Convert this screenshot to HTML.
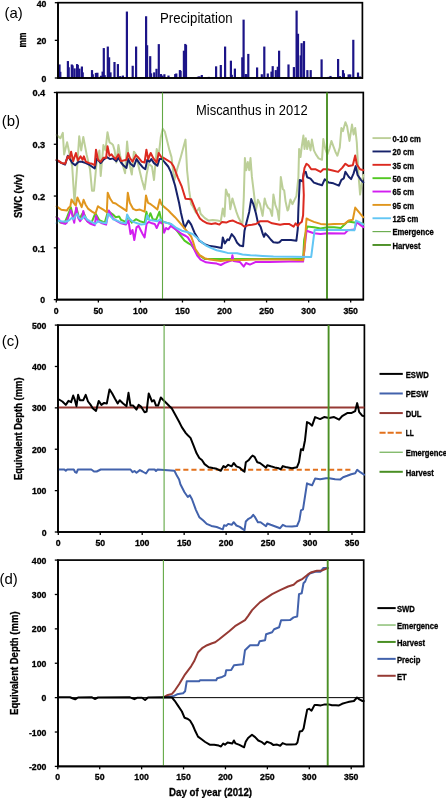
<!DOCTYPE html>
<html><head><meta charset="utf-8"><title>Miscanthus 2012</title>
<style>
html,body{margin:0;padding:0;background:#fff;width:446px;height:798px;overflow:hidden}
svg{display:block;font-family:"Liberation Sans",sans-serif;filter:blur(0.25px)}
</style></head><body>
<svg width="446" height="798" viewBox="0 0 446 798">
<rect width="446" height="798" fill="#fff"/>
<rect x="58.40" y="64.45" width="2.2" height="13.55" fill="#1c1488"/>
<rect x="59.20" y="71.79" width="2.2" height="6.21" fill="#1c1488"/>
<rect x="66.80" y="61.06" width="2.2" height="16.94" fill="#1c1488"/>
<rect x="67.60" y="67.27" width="2.2" height="10.73" fill="#1c1488"/>
<rect x="70.70" y="64.45" width="2.2" height="13.55" fill="#1c1488"/>
<rect x="71.50" y="65.39" width="2.2" height="12.61" fill="#1c1488"/>
<rect x="73.50" y="68.40" width="2.2" height="9.60" fill="#1c1488"/>
<rect x="76.00" y="64.07" width="2.2" height="13.93" fill="#1c1488"/>
<rect x="76.70" y="65.01" width="2.2" height="12.99" fill="#1c1488"/>
<rect x="78.30" y="68.59" width="2.2" height="9.41" fill="#1c1488"/>
<rect x="80.80" y="66.52" width="2.2" height="11.48" fill="#1c1488"/>
<rect x="81.60" y="72.35" width="2.2" height="5.65" fill="#1c1488"/>
<rect x="90.90" y="70.09" width="2.2" height="7.91" fill="#1c1488"/>
<rect x="91.70" y="74.23" width="2.2" height="3.76" fill="#1c1488"/>
<rect x="94.80" y="72.92" width="2.2" height="5.08" fill="#1c1488"/>
<rect x="96.30" y="72.73" width="2.2" height="5.27" fill="#1c1488"/>
<rect x="99.90" y="75.74" width="2.2" height="2.26" fill="#1c1488"/>
<rect x="101.50" y="71.60" width="2.2" height="6.40" fill="#1c1488"/>
<rect x="102.70" y="48.07" width="2.2" height="29.93" fill="#1c1488"/>
<rect x="103.60" y="75.18" width="2.2" height="2.82" fill="#1c1488"/>
<rect x="106.70" y="46.56" width="2.2" height="31.44" fill="#1c1488"/>
<rect x="108.00" y="57.29" width="2.2" height="20.71" fill="#1c1488"/>
<rect x="109.40" y="72.35" width="2.2" height="5.65" fill="#1c1488"/>
<rect x="113.40" y="62.00" width="2.2" height="16.00" fill="#1c1488"/>
<rect x="116.80" y="64.07" width="2.2" height="13.93" fill="#1c1488"/>
<rect x="119.10" y="76.12" width="2.2" height="1.88" fill="#1c1488"/>
<rect x="121.80" y="75.55" width="2.2" height="2.45" fill="#1c1488"/>
<rect x="125.80" y="11.55" width="2.2" height="66.45" fill="#1c1488"/>
<rect x="131.60" y="65.76" width="2.2" height="12.24" fill="#1c1488"/>
<rect x="135.00" y="46.56" width="2.2" height="31.44" fill="#1c1488"/>
<rect x="139.30" y="77.25" width="2.2" height="0.75" fill="#1c1488"/>
<rect x="141.90" y="77.25" width="2.2" height="0.75" fill="#1c1488"/>
<rect x="145.00" y="16.25" width="2.2" height="61.75" fill="#1c1488"/>
<rect x="146.00" y="45.24" width="2.2" height="32.76" fill="#1c1488"/>
<rect x="149.10" y="56.16" width="2.2" height="21.84" fill="#1c1488"/>
<rect x="150.00" y="73.29" width="2.2" height="4.71" fill="#1c1488"/>
<rect x="153.10" y="72.35" width="2.2" height="5.65" fill="#1c1488"/>
<rect x="155.40" y="68.78" width="2.2" height="9.22" fill="#1c1488"/>
<rect x="157.70" y="44.12" width="2.2" height="33.88" fill="#1c1488"/>
<rect x="159.90" y="74.05" width="2.2" height="3.95" fill="#1c1488"/>
<rect x="161.30" y="75.55" width="2.2" height="2.45" fill="#1c1488"/>
<rect x="163.30" y="74.23" width="2.2" height="3.76" fill="#1c1488"/>
<rect x="167.40" y="75.55" width="2.2" height="2.45" fill="#1c1488"/>
<rect x="174.10" y="74.05" width="2.2" height="3.95" fill="#1c1488"/>
<rect x="175.20" y="73.48" width="2.2" height="4.52" fill="#1c1488"/>
<rect x="178.80" y="70.09" width="2.2" height="7.91" fill="#1c1488"/>
<rect x="179.50" y="70.85" width="2.2" height="7.15" fill="#1c1488"/>
<rect x="182.80" y="50.70" width="2.2" height="27.30" fill="#1c1488"/>
<rect x="184.20" y="43.93" width="2.2" height="34.07" fill="#1c1488"/>
<rect x="184.90" y="45.06" width="2.2" height="32.94" fill="#1c1488"/>
<rect x="196.90" y="76.68" width="2.2" height="1.32" fill="#1c1488"/>
<rect x="198.30" y="76.31" width="2.2" height="1.69" fill="#1c1488"/>
<rect x="200.70" y="74.99" width="2.2" height="3.01" fill="#1c1488"/>
<rect x="207.70" y="76.87" width="2.2" height="1.13" fill="#1c1488"/>
<rect x="215.00" y="66.33" width="2.2" height="11.67" fill="#1c1488"/>
<rect x="219.70" y="65.01" width="2.2" height="12.99" fill="#1c1488"/>
<rect x="224.00" y="46.56" width="2.2" height="31.44" fill="#1c1488"/>
<rect x="227.50" y="77.06" width="2.2" height="0.94" fill="#1c1488"/>
<rect x="229.80" y="60.68" width="2.2" height="17.32" fill="#1c1488"/>
<rect x="230.70" y="74.80" width="2.2" height="3.20" fill="#1c1488"/>
<rect x="233.80" y="68.59" width="2.2" height="9.41" fill="#1c1488"/>
<rect x="237.20" y="77.25" width="2.2" height="0.75" fill="#1c1488"/>
<rect x="241.20" y="57.29" width="2.2" height="20.71" fill="#1c1488"/>
<rect x="242.50" y="19.64" width="2.2" height="58.36" fill="#1c1488"/>
<rect x="244.60" y="74.05" width="2.2" height="3.95" fill="#1c1488"/>
<rect x="245.50" y="74.23" width="2.2" height="3.76" fill="#1c1488"/>
<rect x="247.20" y="53.90" width="2.2" height="24.10" fill="#1c1488"/>
<rect x="256.00" y="67.46" width="2.2" height="10.54" fill="#1c1488"/>
<rect x="260.70" y="74.23" width="2.2" height="3.76" fill="#1c1488"/>
<rect x="263.20" y="46.56" width="2.2" height="31.44" fill="#1c1488"/>
<rect x="266.70" y="73.48" width="2.2" height="4.52" fill="#1c1488"/>
<rect x="270.40" y="71.60" width="2.2" height="6.40" fill="#1c1488"/>
<rect x="271.60" y="66.14" width="2.2" height="11.86" fill="#1c1488"/>
<rect x="274.70" y="70.09" width="2.2" height="7.91" fill="#1c1488"/>
<rect x="276.70" y="66.70" width="2.2" height="11.29" fill="#1c1488"/>
<rect x="278.00" y="50.70" width="2.2" height="27.30" fill="#1c1488"/>
<rect x="287.40" y="64.45" width="2.2" height="13.55" fill="#1c1488"/>
<rect x="292.80" y="67.08" width="2.2" height="10.92" fill="#1c1488"/>
<rect x="295.50" y="10.61" width="2.2" height="67.39" fill="#1c1488"/>
<rect x="296.90" y="33.76" width="2.2" height="44.24" fill="#1c1488"/>
<rect x="299.60" y="55.41" width="2.2" height="22.59" fill="#1c1488"/>
<rect x="300.50" y="43.17" width="2.2" height="34.83" fill="#1c1488"/>
<rect x="302.90" y="41.10" width="2.2" height="36.90" fill="#1c1488"/>
<rect x="306.30" y="70.09" width="2.2" height="7.91" fill="#1c1488"/>
<rect x="309.60" y="70.09" width="2.2" height="7.91" fill="#1c1488"/>
<rect x="320.50" y="59.36" width="2.2" height="18.64" fill="#1c1488"/>
<rect x="327.40" y="76.87" width="2.2" height="1.13" fill="#1c1488"/>
<rect x="329.40" y="75.93" width="2.2" height="2.07" fill="#1c1488"/>
<rect x="337.00" y="58.99" width="2.2" height="19.01" fill="#1c1488"/>
<rect x="338.80" y="76.12" width="2.2" height="1.88" fill="#1c1488"/>
<rect x="341.90" y="70.09" width="2.2" height="7.91" fill="#1c1488"/>
<rect x="342.80" y="73.29" width="2.2" height="4.71" fill="#1c1488"/>
<rect x="347.50" y="74.42" width="2.2" height="3.58" fill="#1c1488"/>
<rect x="349.10" y="74.42" width="2.2" height="3.58" fill="#1c1488"/>
<rect x="352.20" y="39.79" width="2.2" height="38.21" fill="#1c1488"/>
<rect x="356.90" y="72.54" width="2.2" height="5.46" fill="#1c1488"/>
<rect x="358.90" y="76.49" width="2.2" height="1.51" fill="#1c1488"/>
<rect x="58.0" y="2.7" width="304.4" height="75.3" fill="none" stroke="#000" stroke-width="1.7"/>
<line x1="58.0" y1="2.1" x2="58.0" y2="78.6" stroke="#000" stroke-width="1.6" />
<line x1="57.4" y1="78.0" x2="363.0" y2="78.0" stroke="#000" stroke-width="1.6" />
<line x1="54.8" y1="78.0" x2="58.0" y2="78.0" stroke="#000" stroke-width="1.3" />
<text x="46.4" y="81.5" font-size="9.2" font-weight="bold" text-anchor="end" fill="#000" stroke="#000" stroke-width="0.3" textLength="4.86" lengthAdjust="spacingAndGlyphs" >0</text>
<line x1="54.8" y1="40.35" x2="58.0" y2="40.35" stroke="#000" stroke-width="1.3" />
<text x="46.4" y="43.85" font-size="9.2" font-weight="bold" text-anchor="end" fill="#000" stroke="#000" stroke-width="0.3" textLength="9.72" lengthAdjust="spacingAndGlyphs" >20</text>
<line x1="54.8" y1="2.7" x2="58.0" y2="2.7" stroke="#000" stroke-width="1.3" />
<text x="46.4" y="6.6" font-size="9.2" font-weight="bold" text-anchor="end" fill="#000" stroke="#000" stroke-width="0.3" textLength="9.72" lengthAdjust="spacingAndGlyphs" >40</text>
<text x="25.6" y="40" font-size="10" font-weight="bold" text-anchor="middle" fill="#000" stroke="#000" stroke-width="0.3" textLength="15.00" lengthAdjust="spacingAndGlyphs" transform="rotate(-90 25.6 40)">mm</text>
<text x="4.6" y="18.4" font-size="14.5" font-weight="normal" text-anchor="start" fill="#000" textLength="18.25" lengthAdjust="spacingAndGlyphs" >(a)</text>
<text x="160" y="23.3" font-size="13.8" font-weight="normal" text-anchor="start" fill="#000" textLength="72.60" lengthAdjust="spacingAndGlyphs" >Precipitation</text>
<rect x="57.0" y="92.5" width="306.3" height="207.10000000000002" fill="none" stroke="#000" stroke-width="1.7"/>
<text x="196" y="115.3" font-size="14.0" font-weight="normal" text-anchor="start" fill="#000" textLength="111.60" lengthAdjust="spacingAndGlyphs" >Miscanthus in 2012</text>
<polyline points="56.6,134.9 60.4,138.3 62.8,132.9 64.1,154.4 67.1,142.3 69.1,151.7 72.2,166.5 74.5,202.8 77.2,166.5 79.2,136.2 81.2,150.4 83.3,136.9 86.6,154.4 90.0,169.2 92.0,190.7 94.0,190.7 96.7,161.1 99.4,150.4 100.7,175.9 103.4,145.0 105.5,150.4 107.5,132.2 109.5,142.3 111.5,143.6 113.0,145.0 114.6,150.4 116.4,162.5 118.4,145.0 120.4,157.1 122.4,163.8 125.1,173.2 127.1,141.6 129.1,162.5 131.8,174.6 133.9,151.7 135.9,154.4 138.6,166.5 141.9,180.0 144.6,189.4 146.6,174.6 148.7,163.8 152.0,166.5 154.0,180.0 156.7,149.0 158.7,155.7 160.8,136.9 162.8,128.8 164.8,131.5 166.8,139.6 169.5,150.4 171.5,157.1 172.3,163.8 174.4,180.0 177.1,169.2 180.4,158.4 185.5,139.6 187.1,170.5 189.2,190.7 191.2,204.2 192.5,205.8 195.9,212.5 199.3,207.8 200.6,213.8 204.6,217.9 208.7,220.6 212.7,219.9 217.4,220.6 220.8,221.2 222.8,208.5 224.5,216.5 225.9,189.4 228.2,196.1 229.0,194.4 230.3,209.2 232.4,198.4 234.4,205.2 236.4,211.9 238.4,217.3 240.4,221.3 242.5,223.3 243.8,197.1 244.9,158.1 246.2,170.2 247.8,162.1 249.2,170.2 250.5,158.1 251.9,176.9 253.9,193.1 255.9,210.5 257.9,199.8 259.9,203.8 262.6,215.9 264.7,198.4 266.0,203.8 268.0,207.8 270.0,209.2 272.1,215.9 273.4,194.4 275.4,205.2 277.4,210.5 279.0,220.0 280.8,176.9 282.8,189.0 284.2,190.4 285.5,201.1 287.5,210.5 288.3,209.6 290.4,199.5 292.4,204.2 294.4,200.1 296.4,196.1 298.4,177.3 299.1,149.0 300.5,157.1 301.8,146.3 303.4,135.6 304.5,149.0 305.8,138.3 307.2,149.0 308.5,140.9 310.5,150.4 311.9,139.6 313.9,150.4 315.9,154.4 318.6,158.4 322.0,159.8 323.3,138.9 325.3,149.0 327.4,154.4 329.4,149.0 331.4,140.9 333.4,146.3 335.4,151.7 337.4,155.7 339.8,147.4 341.4,127.9 343.0,131.1 345.4,122.2 347.1,126.3 349.5,140.9 352.0,124.6 353.6,134.4 355.2,127.9 356.8,142.5 358.5,175.0 360.1,194.6 361.7,183.2 363.3,175.0" fill="none" stroke="#bccf98" stroke-width="2.0" stroke-linejoin="round" stroke-linecap="round" />
<polyline points="56.6,160.4 61.7,163.1 65.1,164.5 67.8,155.7 72.5,163.1 75.2,165.2 78.5,161.8 81.9,161.8 85.9,163.1 90.0,165.2 94.7,168.5 96.7,158.4 100.7,163.1 103.4,159.8 106.8,157.1 110.2,159.1 113.0,158.4 116.4,161.1 118.4,157.8 121.1,162.5 123.8,165.8 126.5,167.9 128.1,159.1 130.5,163.8 133.9,166.5 136.5,159.1 139.9,163.8 142.6,167.2 145.3,169.2 147.3,159.8 149.3,161.8 151.3,159.1 154.0,163.1 157.4,165.8 159.4,159.1 162.1,159.1 164.8,162.5 168.2,166.5 170.8,171.9 175.0,185.3 179.1,203.0 181.0,213.0 184.5,228.0 188.5,220.6 191.2,224.6 194.5,232.7 199.3,240.7 204.6,244.1 210.0,246.1 215.4,246.8 221.5,248.1 222.8,237.4 224.8,243.4 227.5,239.4 229.0,240.1 231.7,234.1 234.4,237.4 237.1,242.8 239.8,245.5 243.1,246.2 244.5,230.7 246.5,222.6 249.2,211.9 251.2,199.1 253.2,203.8 255.9,213.2 257.9,222.6 260.6,226.7 262.6,233.4 264.0,236.8 265.3,233.4 268.0,236.1 270.7,239.5 273.4,242.2 277.4,242.8 279.5,242.2 281.5,240.1 285.5,240.1 291.0,240.1 296.4,240.7 297.8,228.6 298.4,208.5 299.8,180.0 302.5,181.3 303.8,173.2 305.8,171.9 307.2,177.3 310.5,178.6 313.9,182.6 317.9,184.0 322.0,185.3 324.7,179.3 328.7,182.6 333.4,183.3 338.9,185.6 341.4,179.9 343.8,178.3 345.4,171.8 348.7,176.7 351.1,179.1 353.6,173.4 355.7,166.1 357.6,175.0 360.9,179.9 363.3,182.4" fill="none" stroke="#16226a" stroke-width="2.0" stroke-linejoin="round" stroke-linecap="round" />
<polyline points="56.6,159.8 59.0,161.1 61.7,163.1 65.1,163.8 67.8,156.4 69.5,158.4 71.1,151.7 73.2,161.1 75.9,153.0 77.9,160.4 80.6,156.4 82.6,159.8 83.9,156.4 85.9,161.8 89.3,163.1 92.0,163.8 94.7,165.2 96.0,149.7 98.0,159.8 100.7,161.8 103.4,157.8 106.1,157.8 107.5,146.3 109.5,155.7 111.5,154.4 113.0,156.4 115.7,159.1 118.4,154.4 121.1,161.1 126.5,159.8 128.1,153.0 129.8,157.8 132.5,161.8 135.9,155.1 138.6,157.8 141.9,161.8 144.6,162.5 146.4,149.7 148.2,159.1 150.7,153.0 153.4,158.4 156.7,162.5 158.7,153.0 161.2,157.1 163.5,157.8 166.8,159.8 171.0,162.5 173.7,166.5 177.7,177.3 181.8,186.7 185.5,198.8 191.2,199.2 193.9,205.8 196.6,212.5 199.9,218.5 203.3,221.2 207.3,223.3 211.4,223.9 215.4,223.3 219.4,224.6 222.1,221.9 226.2,222.6 229.0,221.3 233.0,220.6 237.1,222.6 241.1,224.0 244.5,226.7 247.8,225.3 251.9,224.7 255.9,224.0 259.9,221.3 264.0,221.3 268.0,221.3 272.1,223.3 276.1,224.0 280.1,224.7 284.2,224.0 289.0,223.9 293.7,226.6 295.7,223.3 297.8,225.9 299.8,223.3 301.8,221.9 303.1,215.2 303.8,195.0 303.1,177.3 304.5,167.9 306.5,163.8 308.5,165.2 311.2,169.2 315.3,169.2 320.6,171.9 323.3,169.2 327.4,169.2 332.7,170.5 338.1,171.9 342.2,167.9 345.4,163.7 348.7,166.1 352.8,165.3 355.2,155.5 356.8,164.5 360.1,169.3 363.3,170.2" fill="none" stroke="#dc2a20" stroke-width="2.0" stroke-linejoin="round" stroke-linecap="round" />
<polyline points="56.6,216.5 60.4,222.6 64.4,223.2 67.1,217.2 70.9,207.4 73.8,219.9 76.5,207.8 79.2,218.5 80.5,216.9 83.3,212.1 87.3,221.2 91.3,223.2 95.4,213.2 99.4,220.2 104.8,222.6 108.1,211.1 113.0,214.5 115.7,217.2 119.1,216.5 121.1,219.9 125.8,221.9 127.8,216.5 131.8,222.6 135.9,219.2 139.9,221.2 144.6,222.6 146.4,211.8 148.2,219.2 150.4,213.2 152.7,219.2 156.1,219.9 159.4,211.8 161.4,221.2 166.1,222.6 170.8,223.9 176.4,230.0 180.4,235.4 184.5,240.7 188.5,243.4 191.2,244.8 195.2,250.2 199.3,255.5 204.6,258.9 226.2,259.1 289.0,258.9 303.1,259.0 304.2,239.4 307.2,226.6 313.9,227.3 320.6,228.4 327.4,227.3 334.1,227.3 340.8,228.0 344.6,224.6 347.9,221.4 352.8,222.2 363.3,223.8" fill="none" stroke="#52c822" stroke-width="2.0" stroke-linejoin="round" stroke-linecap="round" />
<polyline points="56.6,217.3 58.9,219.2 61.3,222.8 65.2,223.9 66.8,222.8 68.0,218.1 70.7,210.2 71.9,213.3 74.2,222.8 76.2,207.5 78.2,218.1 80.1,221.2 82.1,218.1 83.3,211.0 84.8,218.1 88.0,222.0 90.0,223.5 94.7,225.3 96.0,215.9 98.0,221.2 102.1,223.3 106.1,224.6 108.8,210.5 111.5,215.2 113.0,218.5 117.0,221.2 121.1,223.3 125.8,224.6 128.5,220.6 130.5,234.0 132.5,230.0 134.3,240.1 136.5,227.3 138.6,225.9 140.6,230.0 142.6,234.0 144.6,237.4 146.6,223.9 148.7,221.9 152.0,223.3 154.7,223.9 156.7,228.0 159.4,221.9 162.8,223.9 164.1,232.7 166.1,228.0 168.2,229.3 170.8,225.9 176.4,230.0 181.8,234.0 185.8,236.0 187.8,237.4 191.2,242.8 193.9,248.8 197.2,255.5 200.6,259.6 206.0,262.3 211.4,262.9 216.7,263.6 220.8,265.0 224.8,262.9 229.0,261.2 231.5,260.5 232.4,255.2 233.5,261.0 239.8,261.9 243.8,266.6 246.0,263.0 249.9,264.6 255.9,261.9 269.4,261.9 289.0,261.6 303.1,261.6 304.5,248.8 306.5,230.7 313.9,233.3 320.6,234.0 327.4,233.3 344.6,233.6 347.9,230.3 354.4,229.5 356.8,222.2 360.9,225.4 363.3,227.1" fill="none" stroke="#d21ef0" stroke-width="2.0" stroke-linejoin="round" stroke-linecap="round" />
<polyline points="56.6,206.3 59.7,208.6 61.3,209.8 66.8,210.6 68.3,208.2 70.3,206.3 71.5,199.5 73.8,203.1 75.8,205.5 77.4,197.5 81.7,207.1 83.6,199.8 85.6,204.7 88.0,208.6 92.0,211.6 95.4,213.6 98.0,206.2 100.7,208.2 104.1,210.2 106.8,212.2 107.7,192.7 110.2,198.8 112.9,202.8 115.7,203.5 118.4,205.5 122.4,208.2 126.5,210.9 127.8,192.7 129.8,202.8 133.2,208.9 135.9,210.2 139.9,209.6 144.6,211.6 146.0,195.4 148.0,202.8 150.7,204.2 153.4,206.2 157.4,209.6 159.8,199.5 161.4,204.2 164.1,206.9 168.2,210.2 171.0,213.2 175.0,217.2 179.1,221.9 183.1,226.6 187.1,231.3 191.2,236.7 193.2,242.1 195.2,248.8 199.3,254.9 204.6,258.2 210.0,259.6 215.4,260.2 220.8,260.9 226.2,260.2 242.5,259.9 255.9,259.6 289.0,259.4 303.1,260.2 304.5,248.8 306.5,218.5 309.2,219.9 313.9,221.9 320.6,223.9 327.4,224.6 334.1,223.9 344.6,223.8 348.7,220.6 352.8,219.8 355.2,207.6 358.5,211.6 363.3,217.3" fill="none" stroke="#e0961e" stroke-width="2.0" stroke-linejoin="round" stroke-linecap="round" />
<polyline points="56.6,223.2 58.1,220.4 61.3,221.2 64.4,221.6 66.8,221.6 69.9,219.6 71.9,217.7 73.4,219.2 77.0,213.7 79.3,218.4 82.1,218.8 84.4,216.1 87.2,219.6 90.0,221.2 95.4,223.9 98.0,221.2 102.1,222.6 106.1,223.3 108.1,213.8 111.5,217.2 113.0,219.2 117.0,220.6 121.1,222.6 125.8,223.3 127.1,214.5 129.1,218.5 133.2,221.9 137.2,223.3 141.3,224.6 145.3,223.9 147.3,215.2 149.3,219.9 153.4,220.6 157.4,221.2 160.1,219.2 163.5,221.9 168.2,223.3 171.0,223.9 176.4,228.0 181.8,230.7 187.1,232.0 192.5,234.0 196.6,237.4 200.6,241.4 206.0,245.5 211.4,248.1 216.7,250.2 222.1,251.5 227.5,252.9 237.1,253.2 242.5,254.5 250.5,255.2 262.6,255.9 273.4,256.5 311.2,256.9 314.6,230.0 327.4,229.7 354.4,230.3 356.0,220.6 359.3,222.2 363.3,224.6" fill="none" stroke="#62c6f4" stroke-width="2.0" stroke-linejoin="round" stroke-linecap="round" />
<line x1="162.5" y1="92.5" x2="162.5" y2="299.6" stroke="#62a844" stroke-width="1.1" />
<line x1="327.0" y1="92.5" x2="327.0" y2="299.6" stroke="#4a8f24" stroke-width="1.9" />
<line x1="57.0" y1="91.9" x2="57.0" y2="300.20000000000005" stroke="#000" stroke-width="1.6" />
<line x1="56.4" y1="299.6" x2="363.90000000000003" y2="299.6" stroke="#000" stroke-width="1.6" />
<line x1="53.8" y1="299.6" x2="57.0" y2="299.6" stroke="#000" stroke-width="1.3" />
<text x="45.2" y="303.40000000000003" font-size="9.2" font-weight="bold" text-anchor="end" fill="#000" stroke="#000" stroke-width="0.3" textLength="4.86" lengthAdjust="spacingAndGlyphs" >0</text>
<line x1="53.8" y1="247.82500000000002" x2="57.0" y2="247.82500000000002" stroke="#000" stroke-width="1.3" />
<text x="45.2" y="251.62500000000003" font-size="9.2" font-weight="bold" text-anchor="end" fill="#000" stroke="#000" stroke-width="0.3" textLength="12.79" lengthAdjust="spacingAndGlyphs" >0.1</text>
<line x1="53.8" y1="196.05" x2="57.0" y2="196.05" stroke="#000" stroke-width="1.3" />
<text x="45.2" y="199.85000000000002" font-size="9.2" font-weight="bold" text-anchor="end" fill="#000" stroke="#000" stroke-width="0.3" textLength="12.79" lengthAdjust="spacingAndGlyphs" >0.2</text>
<line x1="53.8" y1="144.275" x2="57.0" y2="144.275" stroke="#000" stroke-width="1.3" />
<text x="45.2" y="148.07500000000002" font-size="9.2" font-weight="bold" text-anchor="end" fill="#000" stroke="#000" stroke-width="0.3" textLength="12.79" lengthAdjust="spacingAndGlyphs" >0.3</text>
<line x1="53.8" y1="92.5" x2="57.0" y2="92.5" stroke="#000" stroke-width="1.3" />
<text x="45.2" y="96.3" font-size="9.2" font-weight="bold" text-anchor="end" fill="#000" stroke="#000" stroke-width="0.3" textLength="12.79" lengthAdjust="spacingAndGlyphs" >0.4</text>
<line x1="56.3" y1="299.6" x2="56.3" y2="302.5" stroke="#000" stroke-width="1.3" />
<text x="56.3" y="313.8" font-size="9.2" font-weight="bold" text-anchor="middle" fill="#000" stroke="#000" stroke-width="0.3" textLength="4.86" lengthAdjust="spacingAndGlyphs" >0</text>
<line x1="98.35499999999999" y1="299.6" x2="98.35499999999999" y2="302.5" stroke="#000" stroke-width="1.3" />
<text x="98.35499999999999" y="313.8" font-size="9.2" font-weight="bold" text-anchor="middle" fill="#000" stroke="#000" stroke-width="0.3" textLength="9.72" lengthAdjust="spacingAndGlyphs" >50</text>
<line x1="140.41" y1="299.6" x2="140.41" y2="302.5" stroke="#000" stroke-width="1.3" />
<text x="140.41" y="313.8" font-size="9.2" font-weight="bold" text-anchor="middle" fill="#000" stroke="#000" stroke-width="0.3" textLength="14.58" lengthAdjust="spacingAndGlyphs" >100</text>
<line x1="182.46499999999997" y1="299.6" x2="182.46499999999997" y2="302.5" stroke="#000" stroke-width="1.3" />
<text x="182.46499999999997" y="313.8" font-size="9.2" font-weight="bold" text-anchor="middle" fill="#000" stroke="#000" stroke-width="0.3" textLength="14.58" lengthAdjust="spacingAndGlyphs" >150</text>
<line x1="224.51999999999998" y1="299.6" x2="224.51999999999998" y2="302.5" stroke="#000" stroke-width="1.3" />
<text x="224.51999999999998" y="313.8" font-size="9.2" font-weight="bold" text-anchor="middle" fill="#000" stroke="#000" stroke-width="0.3" textLength="14.58" lengthAdjust="spacingAndGlyphs" >200</text>
<line x1="266.575" y1="299.6" x2="266.575" y2="302.5" stroke="#000" stroke-width="1.3" />
<text x="266.575" y="313.8" font-size="9.2" font-weight="bold" text-anchor="middle" fill="#000" stroke="#000" stroke-width="0.3" textLength="14.58" lengthAdjust="spacingAndGlyphs" >250</text>
<line x1="308.63" y1="299.6" x2="308.63" y2="302.5" stroke="#000" stroke-width="1.3" />
<text x="308.63" y="313.8" font-size="9.2" font-weight="bold" text-anchor="middle" fill="#000" stroke="#000" stroke-width="0.3" textLength="14.58" lengthAdjust="spacingAndGlyphs" >300</text>
<line x1="350.685" y1="299.6" x2="350.685" y2="302.5" stroke="#000" stroke-width="1.3" />
<text x="350.685" y="313.8" font-size="9.2" font-weight="bold" text-anchor="middle" fill="#000" stroke="#000" stroke-width="0.3" textLength="14.58" lengthAdjust="spacingAndGlyphs" >350</text>
<text x="21.5" y="196" font-size="10.6" font-weight="bold" text-anchor="middle" fill="#000" stroke="#000" stroke-width="0.3" textLength="44.00" lengthAdjust="spacingAndGlyphs" transform="rotate(-90 21.5 196)">SWC (v/v)</text>
<text x="1.8" y="125.6" font-size="14.5" font-weight="normal" text-anchor="start" fill="#000" textLength="18.25" lengthAdjust="spacingAndGlyphs" >(b)</text>
<line x1="372.5" y1="138.1" x2="390.9" y2="138.1" stroke="#bccf98" stroke-width="1.9" />
<text x="392.4" y="141.9" font-size="8.7" font-weight="bold" text-anchor="start" fill="#000" stroke="#000" stroke-width="0.3" textLength="28.52" lengthAdjust="spacingAndGlyphs" >0-10 cm</text>
<line x1="372.5" y1="151.45999999999998" x2="390.9" y2="151.45999999999998" stroke="#16226a" stroke-width="1.9" />
<text x="392.4" y="155.26" font-size="8.7" font-weight="bold" text-anchor="start" fill="#000" stroke="#000" stroke-width="0.3" textLength="21.71" lengthAdjust="spacingAndGlyphs" >20 cm</text>
<line x1="372.5" y1="164.82" x2="390.9" y2="164.82" stroke="#dc2a20" stroke-width="1.9" />
<text x="392.4" y="168.62" font-size="8.7" font-weight="bold" text-anchor="start" fill="#000" stroke="#000" stroke-width="0.3" textLength="21.71" lengthAdjust="spacingAndGlyphs" >35 cm</text>
<line x1="372.5" y1="178.18" x2="390.9" y2="178.18" stroke="#52c822" stroke-width="1.9" />
<text x="392.4" y="181.98000000000002" font-size="8.7" font-weight="bold" text-anchor="start" fill="#000" stroke="#000" stroke-width="0.3" textLength="21.71" lengthAdjust="spacingAndGlyphs" >50 cm</text>
<line x1="372.5" y1="191.54" x2="390.9" y2="191.54" stroke="#d21ef0" stroke-width="1.9" />
<text x="392.4" y="195.34" font-size="8.7" font-weight="bold" text-anchor="start" fill="#000" stroke="#000" stroke-width="0.3" textLength="21.71" lengthAdjust="spacingAndGlyphs" >65 cm</text>
<line x1="372.5" y1="204.89999999999998" x2="390.9" y2="204.89999999999998" stroke="#e0961e" stroke-width="1.9" />
<text x="392.4" y="208.7" font-size="8.7" font-weight="bold" text-anchor="start" fill="#000" stroke="#000" stroke-width="0.3" textLength="21.71" lengthAdjust="spacingAndGlyphs" >95 cm</text>
<line x1="372.5" y1="218.26" x2="390.9" y2="218.26" stroke="#62c6f4" stroke-width="1.9" />
<text x="392.4" y="222.06" font-size="8.7" font-weight="bold" text-anchor="start" fill="#000" stroke="#000" stroke-width="0.3" textLength="25.97" lengthAdjust="spacingAndGlyphs" >125 cm</text>
<line x1="372.5" y1="231.62" x2="390.9" y2="231.62" stroke="#62a844" stroke-width="1.1" />
<text x="392.4" y="235.42000000000002" font-size="8.7" font-weight="bold" text-anchor="start" fill="#000" stroke="#000" stroke-width="0.3" textLength="41.28" lengthAdjust="spacingAndGlyphs" >Emergence</text>
<line x1="372.5" y1="244.98" x2="390.9" y2="244.98" stroke="#4a8f24" stroke-width="1.9" />
<text x="392.4" y="248.78" font-size="8.7" font-weight="bold" text-anchor="start" fill="#000" stroke="#000" stroke-width="0.3" textLength="28.09" lengthAdjust="spacingAndGlyphs" >Harvest</text>
<rect x="58.0" y="325.1" width="306.4" height="206.89999999999998" fill="none" stroke="#000" stroke-width="1.7"/>
<line x1="58.0" y1="407.5" x2="364.4" y2="407.5" stroke="#963a34" stroke-width="1.9" />
<line x1="175.2" y1="469.8" x2="351.5" y2="469.8" stroke="#e2711d" stroke-width="2.0" stroke-dasharray="5.1,3.0"/>
<polyline points="59.0,469.5 64.4,469.5 65.8,470.8 67.2,469.5 73.8,469.5 75.2,472.2 76.5,472.8 77.9,469.5 91.3,469.5 94.0,471.5 96.7,471.5 100.7,469.5 130.5,469.5 132.5,472.2 134.5,471.0 136.5,472.8 139.9,470.1 142.5,471.5 146.0,473.5 148.7,469.5 154.7,469.5 156.0,471.0 157.5,469.5 171.0,470.4 174.4,470.8 177.1,476.1 179.1,479.5 180.4,484.2 184.5,492.3 187.8,497.0 189.8,495.2 191.9,499.0 195.9,509.8 199.3,517.2 203.3,520.5 206.7,523.9 211.4,525.9 216.7,527.0 220.8,528.6 222.8,529.3 224.1,525.3 226.2,525.9 228.2,523.9 231.7,524.8 233.7,522.2 236.4,525.5 239.8,526.9 242.5,528.9 244.5,530.2 245.8,521.5 248.5,518.8 251.2,517.4 253.2,514.8 255.2,517.4 257.9,522.2 260.6,522.2 263.3,524.2 266.0,526.2 267.3,523.5 270.7,524.8 274.7,526.2 280.1,528.2 282.8,524.8 285.5,526.2 292.0,526.4 297.0,526.0 299.4,520.4 301.0,510.3 303.0,509.3 305.0,496.3 307.0,483.3 309.1,484.3 312.1,485.3 315.1,478.6 320.1,479.2 326.1,478.2 329.1,478.2 335.1,479.2 340.1,479.6 343.1,477.2 347.2,475.8 351.2,474.2 355.2,473.2 357.2,469.8 360.2,472.2 364.0,474.6" fill="none" stroke="#4262ac" stroke-width="2.0" stroke-linejoin="round" stroke-linecap="round" />
<polyline points="59.0,399.5 62.4,401.5 65.8,404.9 68.5,400.9 71.1,402.2 73.2,395.5 74.9,400.2 76.5,406.2 78.1,394.8 79.9,400.2 83.3,400.2 85.7,394.8 88.0,401.5 90.7,404.9 92.7,408.3 96.0,410.9 98.7,400.9 101.4,404.9 104.1,402.9 106.8,403.5 109.5,389.4 112.2,393.5 115.0,398.8 117.7,403.5 119.7,400.2 123.1,403.5 126.5,406.2 128.5,392.8 130.5,405.6 133.2,405.6 136.5,409.6 138.6,404.9 141.3,406.9 144.6,412.3 146.6,411.6 148.7,393.5 152.0,401.5 154.0,400.2 156.0,405.6 158.1,405.6 160.8,397.5 163.5,400.2 166.8,403.5 169.5,406.2 171.7,408.3 175.0,414.3 179.1,421.7 181.8,427.1 185.8,433.1 187.8,435.2 190.5,437.9 193.2,444.6 196.6,453.3 199.3,458.0 201.9,460.0 204.6,464.1 208.7,467.2 212.7,468.1 216.7,468.8 220.8,470.8 223.5,466.1 225.5,467.4 228.2,464.8 231.7,466.3 233.7,463.0 236.4,466.3 239.8,467.7 242.5,470.4 244.5,471.7 245.8,462.3 248.5,460.3 251.2,456.9 252.5,455.6 254.6,456.9 257.3,462.3 259.9,463.0 262.6,465.0 266.0,467.7 267.3,465.2 270.7,466.3 274.7,467.4 278.8,468.3 280.8,469.3 282.8,466.1 285.5,467.0 292.0,468.2 297.0,467.2 299.0,462.2 301.0,449.2 303.0,450.2 305.0,440.2 307.0,422.1 309.1,423.1 312.1,425.7 315.1,417.1 320.1,419.1 324.1,417.1 329.1,418.1 334.1,417.1 339.1,419.7 342.1,416.1 347.2,413.1 351.2,413.1 355.2,411.1 357.2,403.1 359.2,412.1 362.2,415.7 364.0,416.1" fill="none" stroke="#000" stroke-width="2.0" stroke-linejoin="round" stroke-linecap="round" />
<line x1="164.1" y1="325.1" x2="164.1" y2="532.0" stroke="#62a844" stroke-width="1.1" />
<line x1="328.6" y1="325.1" x2="328.6" y2="532.0" stroke="#4a8f24" stroke-width="1.9" />
<line x1="58.0" y1="324.5" x2="58.0" y2="532.6" stroke="#000" stroke-width="1.6" />
<line x1="57.4" y1="532.0" x2="365.0" y2="532.0" stroke="#000" stroke-width="1.6" />
<line x1="54.8" y1="532.0" x2="58.0" y2="532.0" stroke="#000" stroke-width="1.3" />
<text x="46.5" y="535.5" font-size="9.2" font-weight="bold" text-anchor="end" fill="#000" stroke="#000" stroke-width="0.3" textLength="4.86" lengthAdjust="spacingAndGlyphs" >0</text>
<line x1="54.8" y1="490.62" x2="58.0" y2="490.62" stroke="#000" stroke-width="1.3" />
<text x="46.5" y="494.12" font-size="9.2" font-weight="bold" text-anchor="end" fill="#000" stroke="#000" stroke-width="0.3" textLength="14.58" lengthAdjust="spacingAndGlyphs" >100</text>
<line x1="54.8" y1="449.24" x2="58.0" y2="449.24" stroke="#000" stroke-width="1.3" />
<text x="46.5" y="452.74" font-size="9.2" font-weight="bold" text-anchor="end" fill="#000" stroke="#000" stroke-width="0.3" textLength="14.58" lengthAdjust="spacingAndGlyphs" >200</text>
<line x1="54.8" y1="407.86" x2="58.0" y2="407.86" stroke="#000" stroke-width="1.3" />
<text x="46.5" y="411.36" font-size="9.2" font-weight="bold" text-anchor="end" fill="#000" stroke="#000" stroke-width="0.3" textLength="14.58" lengthAdjust="spacingAndGlyphs" >300</text>
<line x1="54.8" y1="366.48" x2="58.0" y2="366.48" stroke="#000" stroke-width="1.3" />
<text x="46.5" y="369.98" font-size="9.2" font-weight="bold" text-anchor="end" fill="#000" stroke="#000" stroke-width="0.3" textLength="14.58" lengthAdjust="spacingAndGlyphs" >400</text>
<line x1="54.8" y1="325.1" x2="58.0" y2="325.1" stroke="#000" stroke-width="1.3" />
<text x="46.5" y="328.6" font-size="9.2" font-weight="bold" text-anchor="end" fill="#000" stroke="#000" stroke-width="0.3" textLength="14.58" lengthAdjust="spacingAndGlyphs" >500</text>
<line x1="58.3" y1="532.0" x2="58.3" y2="534.9" stroke="#000" stroke-width="1.3" />
<text x="58.3" y="546.3" font-size="9.2" font-weight="bold" text-anchor="middle" fill="#000" stroke="#000" stroke-width="0.3" textLength="4.86" lengthAdjust="spacingAndGlyphs" >0</text>
<line x1="100.255" y1="532.0" x2="100.255" y2="534.9" stroke="#000" stroke-width="1.3" />
<text x="100.255" y="546.3" font-size="9.2" font-weight="bold" text-anchor="middle" fill="#000" stroke="#000" stroke-width="0.3" textLength="9.72" lengthAdjust="spacingAndGlyphs" >50</text>
<line x1="142.20999999999998" y1="532.0" x2="142.20999999999998" y2="534.9" stroke="#000" stroke-width="1.3" />
<text x="142.20999999999998" y="546.3" font-size="9.2" font-weight="bold" text-anchor="middle" fill="#000" stroke="#000" stroke-width="0.3" textLength="14.58" lengthAdjust="spacingAndGlyphs" >100</text>
<line x1="184.165" y1="532.0" x2="184.165" y2="534.9" stroke="#000" stroke-width="1.3" />
<text x="184.165" y="546.3" font-size="9.2" font-weight="bold" text-anchor="middle" fill="#000" stroke="#000" stroke-width="0.3" textLength="14.58" lengthAdjust="spacingAndGlyphs" >150</text>
<line x1="226.12" y1="532.0" x2="226.12" y2="534.9" stroke="#000" stroke-width="1.3" />
<text x="226.12" y="546.3" font-size="9.2" font-weight="bold" text-anchor="middle" fill="#000" stroke="#000" stroke-width="0.3" textLength="14.58" lengthAdjust="spacingAndGlyphs" >200</text>
<line x1="268.075" y1="532.0" x2="268.075" y2="534.9" stroke="#000" stroke-width="1.3" />
<text x="268.075" y="546.3" font-size="9.2" font-weight="bold" text-anchor="middle" fill="#000" stroke="#000" stroke-width="0.3" textLength="14.58" lengthAdjust="spacingAndGlyphs" >250</text>
<line x1="310.03" y1="532.0" x2="310.03" y2="534.9" stroke="#000" stroke-width="1.3" />
<text x="310.03" y="546.3" font-size="9.2" font-weight="bold" text-anchor="middle" fill="#000" stroke="#000" stroke-width="0.3" textLength="14.58" lengthAdjust="spacingAndGlyphs" >300</text>
<line x1="351.985" y1="532.0" x2="351.985" y2="534.9" stroke="#000" stroke-width="1.3" />
<text x="351.985" y="546.3" font-size="9.2" font-weight="bold" text-anchor="middle" fill="#000" stroke="#000" stroke-width="0.3" textLength="14.58" lengthAdjust="spacingAndGlyphs" >350</text>
<text x="21.9" y="428.7" font-size="10.6" font-weight="bold" text-anchor="middle" fill="#000" stroke="#000" stroke-width="0.3" textLength="102.50" lengthAdjust="spacingAndGlyphs" transform="rotate(-90 21.9 428.7)">Equivalent Depth (mm)</text>
<text x="1.8" y="346.3" font-size="14.5" font-weight="normal" text-anchor="start" fill="#000" textLength="17.42" lengthAdjust="spacingAndGlyphs" >(c)</text>
<line x1="379.5" y1="373.9" x2="402.8" y2="373.9" stroke="#000" stroke-width="2.0" />
<text x="405.7" y="377.7" font-size="8.7" font-weight="bold" text-anchor="start" fill="#000" stroke="#000" stroke-width="0.3" textLength="22.97" lengthAdjust="spacingAndGlyphs" >ESWD</text>
<line x1="379.5" y1="393.47999999999996" x2="402.8" y2="393.47999999999996" stroke="#4262ac" stroke-width="2.0" />
<text x="405.7" y="397.28" font-size="8.7" font-weight="bold" text-anchor="start" fill="#000" stroke="#000" stroke-width="0.3" textLength="22.55" lengthAdjust="spacingAndGlyphs" >PESW</text>
<line x1="379.5" y1="413.05999999999995" x2="402.8" y2="413.05999999999995" stroke="#963a34" stroke-width="2.0" />
<text x="405.7" y="416.85999999999996" font-size="8.7" font-weight="bold" text-anchor="start" fill="#000" stroke="#000" stroke-width="0.3" textLength="15.73" lengthAdjust="spacingAndGlyphs" >DUL</text>
<line x1="379.5" y1="432.64" x2="402.8" y2="432.64" stroke="#e2711d" stroke-width="2.0" stroke-dasharray="6.1,2.0"/>
<text x="405.7" y="436.44" font-size="8.7" font-weight="bold" text-anchor="start" fill="#000" stroke="#000" stroke-width="0.3" textLength="8.08" lengthAdjust="spacingAndGlyphs" >LL</text>
<line x1="379.5" y1="452.21999999999997" x2="402.8" y2="452.21999999999997" stroke="#62a844" stroke-width="1.1" />
<text x="405.7" y="456.02" font-size="8.7" font-weight="bold" text-anchor="start" fill="#000" stroke="#000" stroke-width="0.3" textLength="41.28" lengthAdjust="spacingAndGlyphs" >Emergence</text>
<line x1="379.5" y1="471.79999999999995" x2="402.8" y2="471.79999999999995" stroke="#4a8f24" stroke-width="2.0" />
<text x="405.7" y="475.59999999999997" font-size="8.7" font-weight="bold" text-anchor="start" fill="#000" stroke="#000" stroke-width="0.3" textLength="28.09" lengthAdjust="spacingAndGlyphs" >Harvest</text>
<rect x="58.0" y="560.1" width="305.7" height="206.29999999999995" fill="none" stroke="#000" stroke-width="1.7"/>
<line x1="58.0" y1="697.6333333333333" x2="363.7" y2="697.6333333333333" stroke="#000" stroke-width="1.0" />
<polyline points="163.4,697.3 173.0,696.3 177.1,694.3 183.1,693.3 185.1,691.3 186.7,681.3 199.1,681.3 200.1,680.3 216.2,680.3 217.2,678.3 221.2,677.3 225.2,675.3 226.2,670.3 231.2,669.9 234.0,665.3 243.0,664.3 245.0,650.2 250.1,645.2 258.1,645.2 259.7,641.2 265.1,640.2 266.1,634.2 272.1,632.2 274.1,629.2 279.1,627.2 281.1,620.2 290.0,620.1 293.6,617.4 297.2,616.5 299.0,594.1 301.7,593.2 303.5,583.3 305.2,581.5 307.0,577.0 309.7,573.5 315.1,571.7 320.5,571.7 323.2,568.1 327.7,568.1" fill="none" stroke="#4262ac" stroke-width="2.0" stroke-linejoin="round" stroke-linecap="round" />
<polyline points="163.4,697.3 167.0,695.3 172.0,693.9 175.0,690.3 179.1,684.3 185.1,674.3 191.1,666.3 194.1,661.3 198.1,652.2 202.1,648.2 207.1,645.2 212.1,643.2 215.2,642.2 219.2,639.2 224.2,635.2 229.2,631.2 235.0,626.2 240.0,623.2 245.0,620.2 248.0,616.1 252.1,610.1 260.1,602.1 266.1,598.1 272.1,594.1 280.1,590.1 288.1,586.5 293.6,584.8 297.2,581.5 302.6,578.8 307.9,574.4 311.5,572.2 316.9,570.8 322.3,570.4 327.7,568.1" fill="none" stroke="#963a34" stroke-width="2.0" stroke-linejoin="round" stroke-linecap="round" />
<polyline points="58.5,697.3 70.0,697.3 73.0,698.5 75.2,699.3 78.0,697.5 92.0,697.3 94.8,699.0 98.0,697.5 130.0,697.3 134.4,699.2 137.0,697.8 142.0,697.8 145.1,700.0 148.0,697.5 163.1,697.2 172.0,697.5 174.7,700.8 178.3,706.1 181.9,711.5 184.6,717.8 187.3,718.7 190.0,720.5 192.7,725.0 195.4,731.3 198.0,736.6 201.6,739.3 205.2,742.0 209.7,744.7 214.2,744.7 218.7,745.6 221.0,746.5 223.2,743.5 225.0,744.7 227.6,742.4 232.4,743.4 233.9,740.5 235.5,743.4 239.4,744.9 244.1,747.3 245.7,741.8 248.1,737.9 252.0,734.7 255.1,737.1 258.3,740.5 261.4,741.8 264.5,744.2 266.9,741.8 270.8,743.1 273.2,744.9 277.1,744.6 280.2,745.7 282.6,743.1 286.5,744.6 291.2,744.6 295.9,744.2 297.4,742.6 299.7,731.6 302.1,731.1 303.6,728.5 305.2,719.8 307.2,709.6 309.1,708.8 311.5,710.7 314.6,704.9 317.0,704.9 320.9,705.4 324.8,704.4 328.7,704.4 331.9,705.2 335.8,705.2 339.0,705.4 342.1,703.8 346.0,702.6 349.2,701.8 353.9,701.0 357.0,697.5 359.4,699.4 362.5,701.0 363.7,701.0" fill="none" stroke="#000" stroke-width="2.0" stroke-linejoin="round" stroke-linecap="round" />
<line x1="163.4" y1="560.1" x2="163.4" y2="766.4" stroke="#62a844" stroke-width="1.1" />
<line x1="327.7" y1="560.1" x2="327.7" y2="766.4" stroke="#4a8f24" stroke-width="1.9" />
<line x1="58.0" y1="559.5" x2="58.0" y2="767.0" stroke="#000" stroke-width="1.6" />
<line x1="57.4" y1="766.4" x2="364.3" y2="766.4" stroke="#000" stroke-width="1.6" />
<line x1="54.8" y1="766.4" x2="58.0" y2="766.4" stroke="#000" stroke-width="1.3" />
<text x="46.4" y="769.9" font-size="9.2" font-weight="bold" text-anchor="end" fill="#000" stroke="#000" stroke-width="0.3" textLength="17.49" lengthAdjust="spacingAndGlyphs" >-200</text>
<line x1="54.8" y1="732.0166666666667" x2="58.0" y2="732.0166666666667" stroke="#000" stroke-width="1.3" />
<text x="46.4" y="735.5166666666667" font-size="9.2" font-weight="bold" text-anchor="end" fill="#000" stroke="#000" stroke-width="0.3" textLength="17.49" lengthAdjust="spacingAndGlyphs" >-100</text>
<line x1="54.8" y1="697.6333333333333" x2="58.0" y2="697.6333333333333" stroke="#000" stroke-width="1.3" />
<text x="46.4" y="701.1333333333333" font-size="9.2" font-weight="bold" text-anchor="end" fill="#000" stroke="#000" stroke-width="0.3" textLength="4.86" lengthAdjust="spacingAndGlyphs" >0</text>
<line x1="54.8" y1="663.25" x2="58.0" y2="663.25" stroke="#000" stroke-width="1.3" />
<text x="46.4" y="666.75" font-size="9.2" font-weight="bold" text-anchor="end" fill="#000" stroke="#000" stroke-width="0.3" textLength="14.58" lengthAdjust="spacingAndGlyphs" >100</text>
<line x1="54.8" y1="628.8666666666667" x2="58.0" y2="628.8666666666667" stroke="#000" stroke-width="1.3" />
<text x="46.4" y="632.3666666666667" font-size="9.2" font-weight="bold" text-anchor="end" fill="#000" stroke="#000" stroke-width="0.3" textLength="14.58" lengthAdjust="spacingAndGlyphs" >200</text>
<line x1="54.8" y1="594.4833333333333" x2="58.0" y2="594.4833333333333" stroke="#000" stroke-width="1.3" />
<text x="46.4" y="597.9833333333333" font-size="9.2" font-weight="bold" text-anchor="end" fill="#000" stroke="#000" stroke-width="0.3" textLength="14.58" lengthAdjust="spacingAndGlyphs" >300</text>
<line x1="54.8" y1="560.1" x2="58.0" y2="560.1" stroke="#000" stroke-width="1.3" />
<text x="46.4" y="563.6" font-size="9.2" font-weight="bold" text-anchor="end" fill="#000" stroke="#000" stroke-width="0.3" textLength="14.58" lengthAdjust="spacingAndGlyphs" >400</text>
<line x1="57.8" y1="766.4" x2="57.8" y2="769.3" stroke="#000" stroke-width="1.3" />
<text x="57.8" y="780.4" font-size="9.2" font-weight="bold" text-anchor="middle" fill="#000" stroke="#000" stroke-width="0.3" textLength="4.86" lengthAdjust="spacingAndGlyphs" >0</text>
<line x1="99.715" y1="766.4" x2="99.715" y2="769.3" stroke="#000" stroke-width="1.3" />
<text x="99.715" y="780.4" font-size="9.2" font-weight="bold" text-anchor="middle" fill="#000" stroke="#000" stroke-width="0.3" textLength="9.72" lengthAdjust="spacingAndGlyphs" >50</text>
<line x1="141.63" y1="766.4" x2="141.63" y2="769.3" stroke="#000" stroke-width="1.3" />
<text x="141.63" y="780.4" font-size="9.2" font-weight="bold" text-anchor="middle" fill="#000" stroke="#000" stroke-width="0.3" textLength="14.58" lengthAdjust="spacingAndGlyphs" >100</text>
<line x1="183.54500000000002" y1="766.4" x2="183.54500000000002" y2="769.3" stroke="#000" stroke-width="1.3" />
<text x="183.54500000000002" y="780.4" font-size="9.2" font-weight="bold" text-anchor="middle" fill="#000" stroke="#000" stroke-width="0.3" textLength="14.58" lengthAdjust="spacingAndGlyphs" >150</text>
<line x1="225.45999999999998" y1="766.4" x2="225.45999999999998" y2="769.3" stroke="#000" stroke-width="1.3" />
<text x="225.45999999999998" y="780.4" font-size="9.2" font-weight="bold" text-anchor="middle" fill="#000" stroke="#000" stroke-width="0.3" textLength="14.58" lengthAdjust="spacingAndGlyphs" >200</text>
<line x1="267.375" y1="766.4" x2="267.375" y2="769.3" stroke="#000" stroke-width="1.3" />
<text x="267.375" y="780.4" font-size="9.2" font-weight="bold" text-anchor="middle" fill="#000" stroke="#000" stroke-width="0.3" textLength="14.58" lengthAdjust="spacingAndGlyphs" >250</text>
<line x1="309.29" y1="766.4" x2="309.29" y2="769.3" stroke="#000" stroke-width="1.3" />
<text x="309.29" y="780.4" font-size="9.2" font-weight="bold" text-anchor="middle" fill="#000" stroke="#000" stroke-width="0.3" textLength="14.58" lengthAdjust="spacingAndGlyphs" >300</text>
<line x1="351.20500000000004" y1="766.4" x2="351.20500000000004" y2="769.3" stroke="#000" stroke-width="1.3" />
<text x="351.20500000000004" y="780.4" font-size="9.2" font-weight="bold" text-anchor="middle" fill="#000" stroke="#000" stroke-width="0.3" textLength="14.58" lengthAdjust="spacingAndGlyphs" >350</text>
<text x="18.3" y="663.2" font-size="10.6" font-weight="bold" text-anchor="middle" fill="#000" stroke="#000" stroke-width="0.3" textLength="103.50" lengthAdjust="spacingAndGlyphs" transform="rotate(-90 18.3 663.2)">Equivalent Depth (mm)</text>
<text x="210.6" y="795.8" font-size="10.8" font-weight="bold" text-anchor="middle" fill="#000" stroke="#000" stroke-width="0.3" textLength="83.00" lengthAdjust="spacingAndGlyphs" >Day of year (2012)</text>
<text x="-0.6" y="584.2" font-size="14.5" font-weight="normal" text-anchor="start" fill="#000" textLength="18.25" lengthAdjust="spacingAndGlyphs" >(d)</text>
<line x1="377.4" y1="608.1" x2="395.7" y2="608.1" stroke="#000" stroke-width="2.0" />
<text x="397" y="611.9" font-size="8.7" font-weight="bold" text-anchor="start" fill="#000" stroke="#000" stroke-width="0.3" textLength="17.86" lengthAdjust="spacingAndGlyphs" >SWD</text>
<line x1="377.4" y1="625.02" x2="395.7" y2="625.02" stroke="#62a844" stroke-width="1.1" />
<text x="397" y="628.8199999999999" font-size="8.7" font-weight="bold" text-anchor="start" fill="#000" stroke="#000" stroke-width="0.3" textLength="41.28" lengthAdjust="spacingAndGlyphs" >Emergence</text>
<line x1="377.4" y1="641.94" x2="395.7" y2="641.94" stroke="#4a8f24" stroke-width="2.0" />
<text x="397" y="645.74" font-size="8.7" font-weight="bold" text-anchor="start" fill="#000" stroke="#000" stroke-width="0.3" textLength="28.09" lengthAdjust="spacingAndGlyphs" >Harvest</text>
<line x1="377.4" y1="658.86" x2="395.7" y2="658.86" stroke="#4262ac" stroke-width="2.0" />
<text x="397" y="662.66" font-size="8.7" font-weight="bold" text-anchor="start" fill="#000" stroke="#000" stroke-width="0.3" textLength="23.41" lengthAdjust="spacingAndGlyphs" >Precip</text>
<line x1="377.4" y1="675.78" x2="395.7" y2="675.78" stroke="#963a34" stroke-width="2.0" />
<text x="397" y="679.5799999999999" font-size="8.7" font-weight="bold" text-anchor="start" fill="#000" stroke="#000" stroke-width="0.3" textLength="9.78" lengthAdjust="spacingAndGlyphs" >ET</text>
</svg>
</body></html>
